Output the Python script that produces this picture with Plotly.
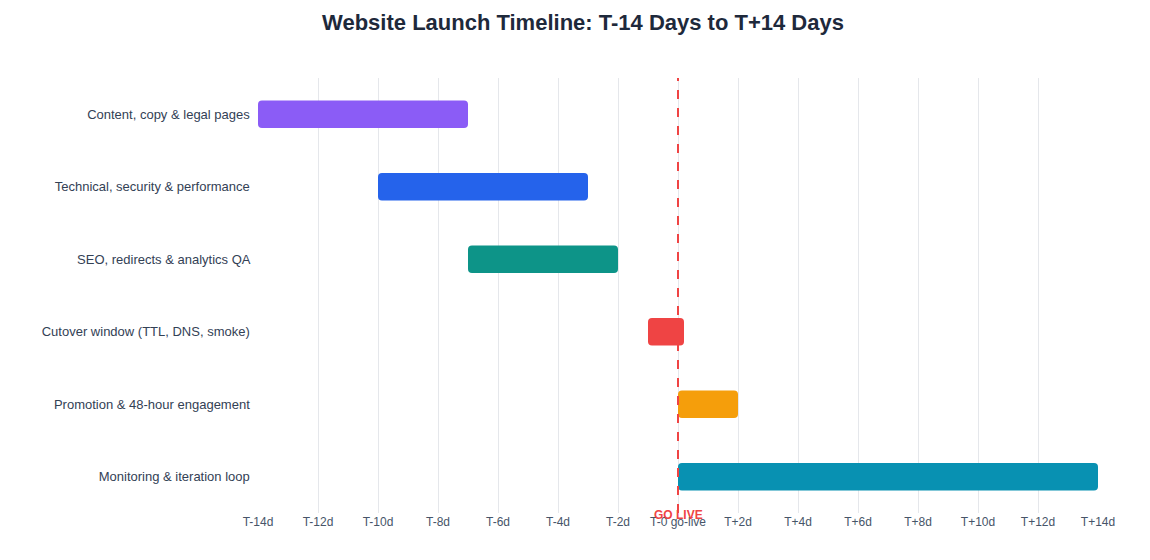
import plotly.graph_objects as go

tasks = ["Content, copy & legal pages", "Technical, security & performance", "SEO, redirects & analytics QA",
         "Cutover window (TTL, DNS, smoke)", "Promotion & 48-hour engagement", "Monitoring & iteration loop"]
starts = [-14, -10, -7, -1, 0, 0]
ends = [-7, -3, -2, 0.2, 2, 14]
colors = ["#8b5cf6", "#2563eb", "#0d9488", "#ef4444", "#f59e0b", "#0891b2"]
tick_vals = list(range(-14, 15, 2))
tick_text = ["T-14d", "T-12d", "T-10d", "T-8d", "T-6d", "T-4d", "T-2d", "T-0 go-live",
             "T+2d", "T+4d", "T+6d", "T+8d", "T+10d", "T+12d", "T+14d"]

fig = go.Figure(go.Bar(
    y=tasks, x=[e - s for s, e in zip(starts, ends)], base=starts, orientation="h",
    marker=dict(color=colors, cornerradius=4, line=dict(width=0)), width=0.38,
    hoverinfo="skip"))
fig.add_shape(type="line", x0=0, x1=0, y0=0, y1=1, yref="paper",
              line=dict(color="#ef4444", width=2, dash="dash"))
fig.add_annotation(x=0, y=0, yref="paper", yshift=-11, text="<b>GO LIVE</b>", showarrow=False,
                   font=dict(color="#ef4444", size=12, family="Liberation Sans, Arial"))
fig.update_layout(
    width=1150, height=560, plot_bgcolor="white", paper_bgcolor="white",
    margin=dict(l=250, r=60, t=70, b=55, autoexpand=False),
    title=dict(text="<b>Website Launch Timeline: T-14 Days to T+14 Days</b>", x=0.5, y=0.975,
               yanchor="middle",
               font=dict(size=22, color="#1e293b", family="Liberation Sans, Arial")),
    font=dict(family="Liberation Sans, Arial", color="#334155", size=13),
    showlegend=False,
    xaxis=dict(range=[-14, 14], tickvals=tick_vals, ticktext=tick_text, showgrid=True,
               gridcolor="#e5e7eb", zeroline=False, tickfont=dict(size=12, color="#475569"),
               ticks="", ticklen=0, automargin=False),
    yaxis=dict(autorange="reversed", showgrid=False, ticks="", ticksuffix="  ", automargin=False,
               tickfont=dict(size=13, color="#334155")),
)
fig.write_html("out.html")
